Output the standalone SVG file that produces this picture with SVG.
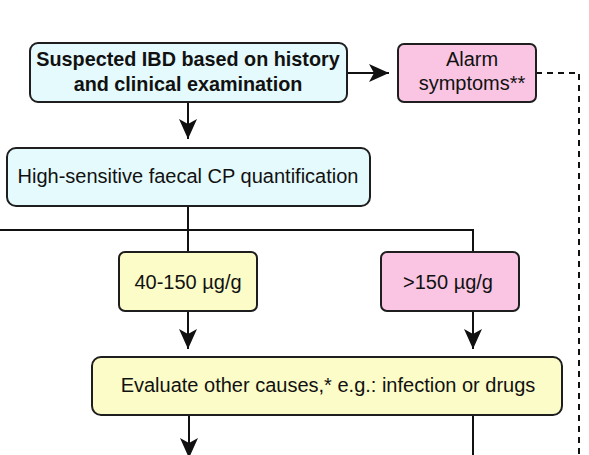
<svg xmlns="http://www.w3.org/2000/svg" width="589" height="455" viewBox="0 0 589 455">
<style>
.box{stroke:#1e1e1e;stroke-width:2}
.cyan{fill:#e5fafc}
.pink{fill:#f9c5e3}
.yellow{fill:#fcfcc8}
.t{font-family:"Liberation Sans",Arial,sans-serif;font-size:20px;fill:#111;text-anchor:middle}
.b{font-weight:bold;font-size:19.8px}
.line{stroke:#111;stroke-width:2;fill:none}
.dash{stroke:#111;stroke-width:2;fill:none;stroke-dasharray:6 5}
</style>
<defs>
<marker id="ah" markerUnits="userSpaceOnUse" markerWidth="24" markerHeight="24" viewBox="-22 -11 24 22" refX="0" refY="0" orient="auto">
<path d="M0,0 L-20,-9 L-15,0 L-20,9 Z" fill="#111"/>
</marker>
</defs>
<rect width="589" height="455" fill="#fff"/>
<g id="connectors">
<path class="line" d="M188,102 V139" marker-end="url(#ah)"/>
<path class="line" d="M347,73 H389" marker-end="url(#ah)"/>
<path class="dash" d="M536,73 H579 V455"/>
<path class="line" d="M188,206 V252"/>
<path class="line" d="M0,230 H473 V252"/>
<path class="line" d="M188,311 V349" marker-end="url(#ah)"/>
<path class="line" d="M473,311 V349" marker-end="url(#ah)"/>
<path class="line" d="M189,415 V458" marker-end="url(#ah)"/>
<path class="line" d="M473,415 V455"/>
</g>
<g id="suspected">
<rect class="box cyan" x="30" y="43" width="317" height="59" rx="8"/>
<text class="t b" x="188" y="66">Suspected IBD based on history</text>
<text class="t b" x="188" y="91">and clinical examination</text>
</g>
<g id="alarm">
<rect class="box pink" x="398" y="44" width="138" height="58" rx="6"/>
<text class="t" x="472" y="66">Alarm</text>
<text class="t" x="472" y="90">symptoms**</text>
</g>
<g id="cp">
<rect class="box cyan" x="7" y="148" width="363" height="58" rx="9"/>
<text class="t" x="188" y="183">High-sensitive faecal CP quantification</text>
</g>
<g id="mid">
<rect class="box yellow" x="119" y="252" width="138" height="59" rx="6"/>
<text class="t" x="188" y="289">40-150 µg/g</text>
</g>
<g id="high">
<rect class="box pink" x="381" y="252" width="138" height="59" rx="6"/>
<text class="t" x="448" y="289">&gt;150 µg/g</text>
</g>
<g id="evaluate">
<rect class="box yellow" x="92" y="357" width="470" height="58" rx="9"/>
<text class="t" x="328" y="392">Evaluate other causes,* e.g.: infection or drugs</text>
</g>
</svg>
